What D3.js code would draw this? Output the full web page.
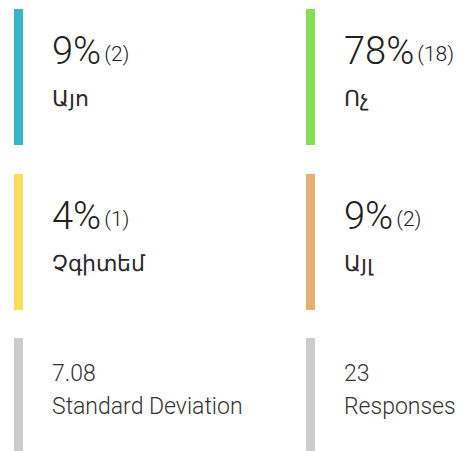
<!DOCTYPE html>
<html><head><meta charset="utf-8">
<script src="https://cdn.jsdelivr.net/npm/d3@7"></script>
<style>
html,body{margin:0;padding:0;background:#fff;overflow:hidden;}
text{font-family:Roboto,"Noto Sans",sans-serif;fill:#222;}
</style></head><body>
<svg id="chart" width="466" height="451"></svg>
<script>
const labels = ["Այո", "Ոչ", "Չգիտեմ", "Այլ"];
const percents = [9, 78, 4, 9];
const counts = [2, 18, 1, 2];
const colors = ["#36b5cb", "#84df52", "#f8de5b", "#e8ae72"];
const statValues = ["7.08", "23"];
const statLabels = ["Standard Deviation", "Responses"];
const statColor = "#cccccc";

const svg = d3.select("#chart");
const W = 466, H = 451;
const col = d3.scaleBand().domain([0,1]).range([14, 14+292*2]);
const row = d3.scaleOrdinal().domain([0,1,2]).range([9, 174, 338]);
const barH = [136, 136, 136];

const items = labels.map((l,i)=>({label:l, pct:percents[i], cnt:counts[i], color:colors[i], c:i%2, r:Math.floor(i/2)}));
statValues.forEach((v,i)=>items.push({stat:true, value:v, label:statLabels[i], color:statColor, c:i, r:2}));

const g = svg.selectAll("g.card").data(items).join("g")
  .attr("class","card")
  .attr("transform", d=>`translate(${col(d.c)},${row(d.r)})`);

g.append("rect").attr("x",0).attr("y",0).attr("width",9)
  .attr("height", d=>Math.min(barH[d.r], H - row(d.r)))
  .attr("fill", d=>d.color);

const main = g.filter(d=>!d.stat);
const t = main.append("text").attr("x",38).attr("y",55);
t.append("tspan").attr("font-size",38).attr("font-weight",300).text(d=>d.pct+"%");
t.append("tspan").attr("dx",3).attr("font-size",21).attr("font-weight",300).attr("dy",-3).text(d=>"("+d.cnt+")");
main.append("text").attr("x",38).attr("y",97).attr("font-size",22).attr("font-weight",400)
  .style("fill","#2a2a2a").text(d=>d.label);

const st = g.filter(d=>d.stat);
st.append("text").attr("x",38).attr("y",43).attr("font-size",23).attr("font-weight",300).style("fill","#333").text(d=>d.value);
st.append("text").attr("x",38).attr("y",76).attr("font-size",23).attr("font-weight",300).style("fill","#333").text(d=>d.label);
</script>
</body></html>
